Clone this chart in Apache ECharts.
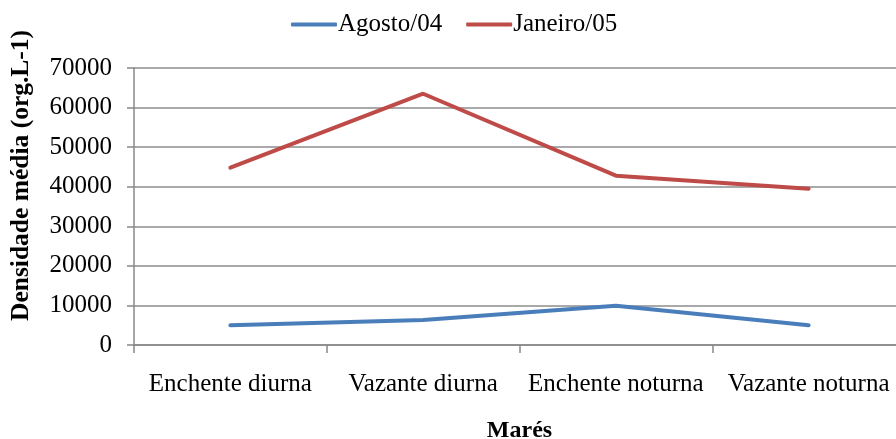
<!DOCTYPE html>
<html><head><meta charset="utf-8">
<script src="https://cdn.jsdelivr.net/npm/echarts@6/dist/echarts.min.js"></script>
<style>html,body{margin:0;padding:0;background:#fff}#c{width:896px;height:439px}</style>
</head><body><div id="c"></div>
<script>
const categories = ['Enchente diurna', 'Vazante diurna', 'Enchente noturna', 'Vazante noturna'];
const agosto04 = [5000, 6300, 9900, 5000];
const janeiro05 = [44800, 63500, 42800, 39500];
const seriesNames = ['Agosto/04', 'Janeiro/05'];
const yTicks = { min: 0, max: 70000, interval: 10000 };
const font = 'Liberation Serif';
const chart = echarts.init(document.getElementById('c'));
chart.setOption({
  animation: false,
  legend: {
    top: 7, left: 286, itemWidth: 46, itemHeight: 4, itemGap: 24,
    icon: 'roundRect',
    textStyle: { fontFamily: font, fontSize: 25, color: '#000', padding: [0,0,0,-4] },
    data: seriesNames
  },
  grid: { left: 134, right: -9, top: 68, bottom: 94, containLabel: false, outerBoundsMode: 'none' },
  xAxis: {
    type: 'category', data: categories, boundaryGap: true,
    name: 'Marés', nameLocation: 'middle', nameGap: 74,
    nameTextStyle: { fontFamily: font, fontSize: 24, fontWeight: 'bold', color: '#000' },
    axisLine: { lineStyle: { color: '#888', width: 1.5 } },
    axisTick: { show: true, length: 8, lineStyle: { color: '#888', width: 1.5 } },
    axisLabel: { fontFamily: font, fontSize: 25, color: '#000', margin: 27, interval: 0, hideOverlap: false }
  },
  yAxis: {
    type: 'value', min: yTicks.min, max: yTicks.max, interval: yTicks.interval,
    axisLine: { show: true, lineStyle: { color: '#888', width: 1.5 } },
    axisTick: { show: true, length: 7, lineStyle: { color: '#888', width: 1.5 } },
    splitLine: { lineStyle: { color: '#8c8c8c', width: 1.5 } },
    axisLabel: { fontFamily: font, fontSize: 25, color: '#000', margin: 22,
      formatter: v => String(v) }
  },
  graphic: [{
    type: 'text', rotation: Math.PI / 2,
    style: { text: 'Densidade média (org.L-1)', font: 'bold 25.5px "Liberation Serif"', fill: '#000' },
    x: 8, y: 321
  }],
  series: [
    { name: seriesNames[0], type: 'line', data: agosto04, symbol: 'none',
      lineStyle: { width: 4, color: '#4a7ebb', cap: 'round' }, itemStyle: { color: '#4a7ebb' } },
    { name: seriesNames[1], type: 'line', data: janeiro05, symbol: 'none',
      lineStyle: { width: 4, color: '#be4b48', cap: 'round' }, itemStyle: { color: '#be4b48' } }
  ]
});
</script></body></html>
